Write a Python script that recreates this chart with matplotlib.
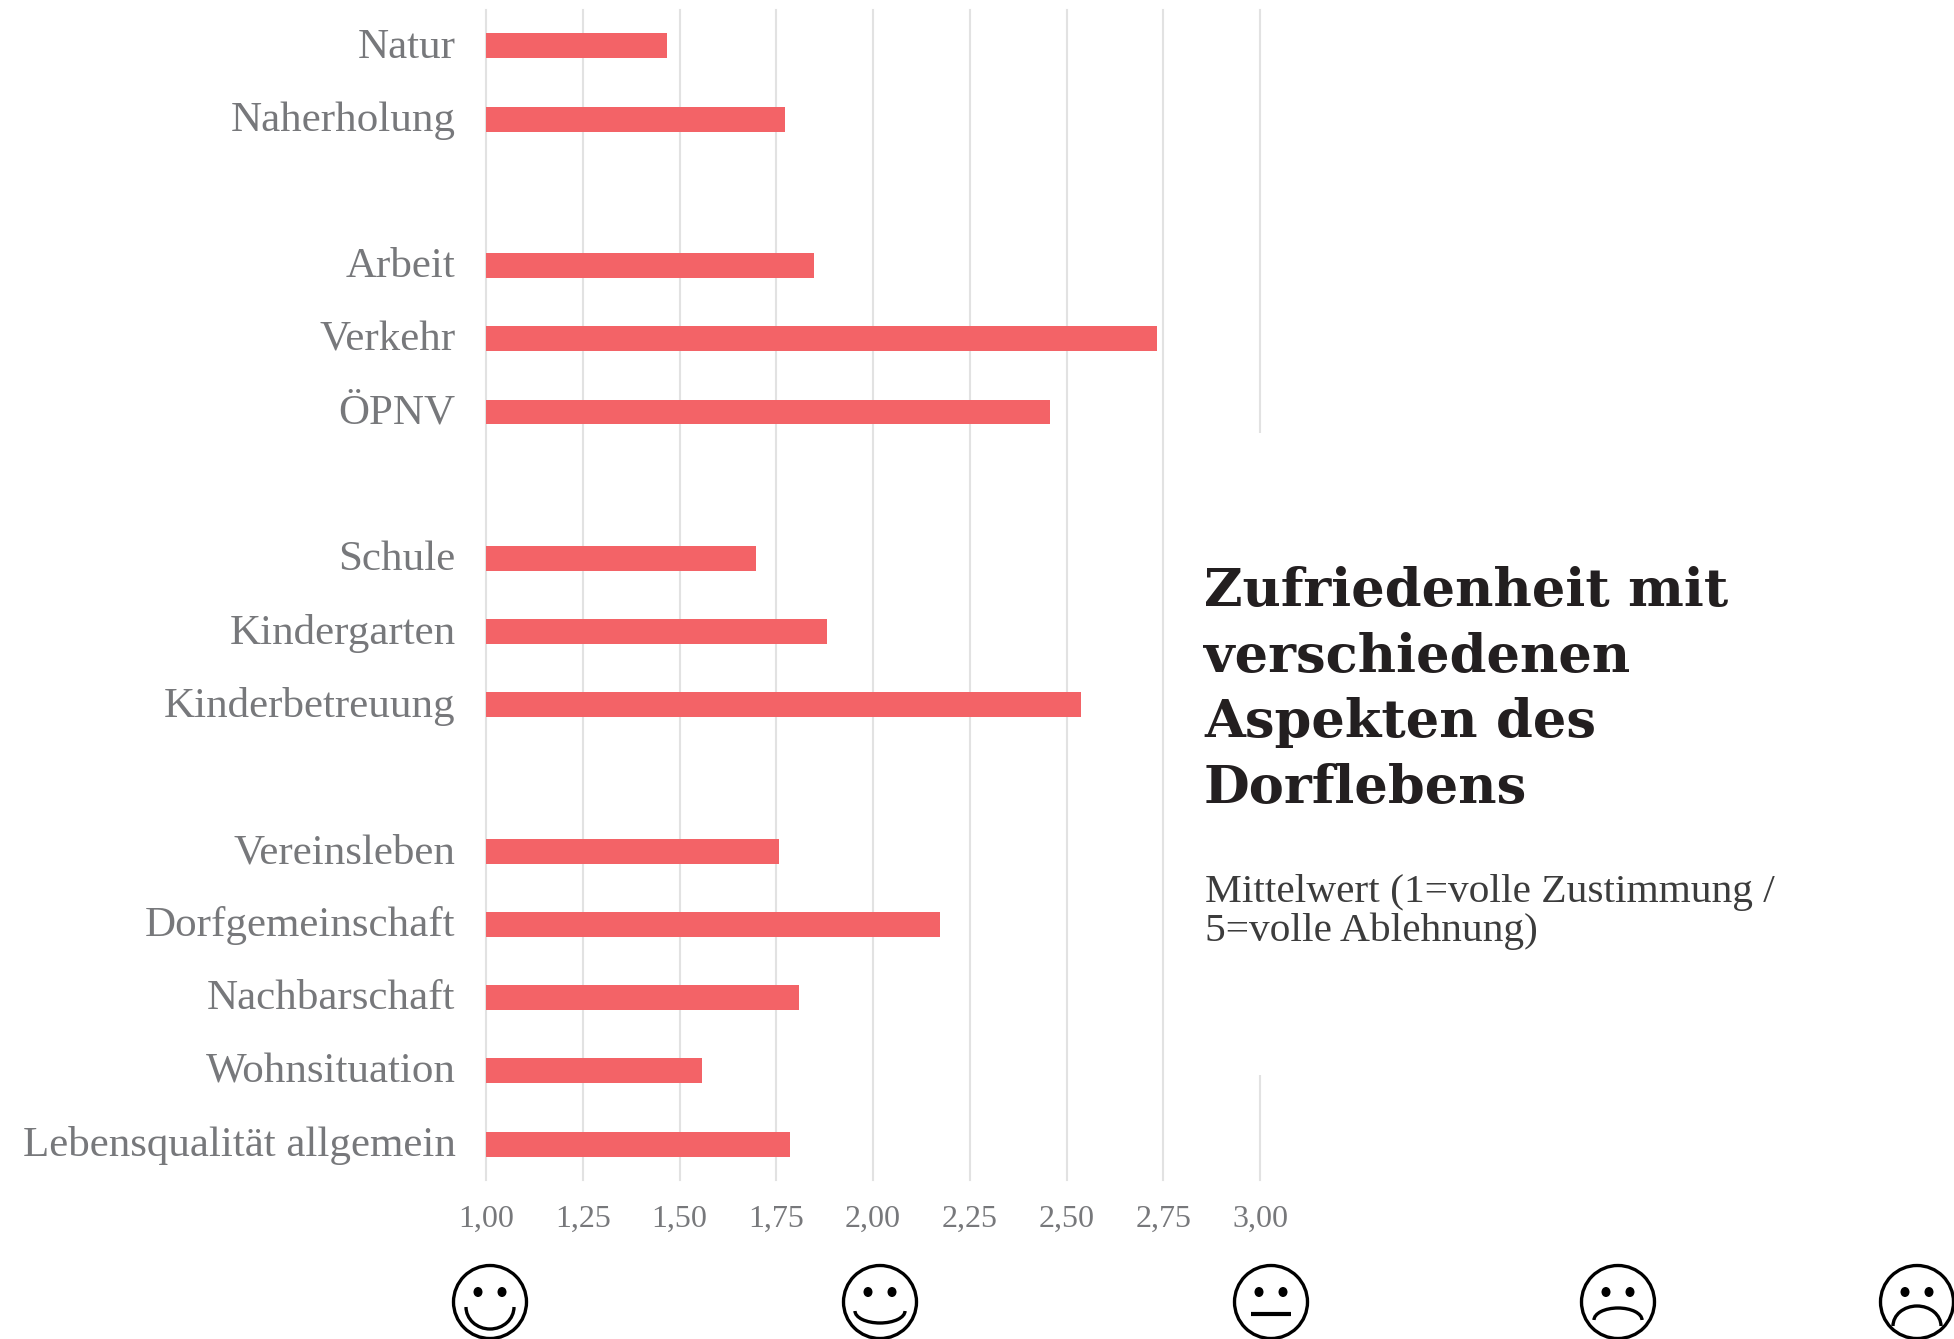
# Zufriedenheit im Dorf, horizontal bars with smiley scale below

import numpy as np
import matplotlib
matplotlib.use("Agg")
import matplotlib.pyplot as plt
from matplotlib.patches import Arc, Circle, Ellipse, Rectangle
from matplotlib.transforms import ScaledTranslation

W, H = 1954, 1339

# Data, empty names are the gaps between groups
categories = ["Natur", "Naherholung", "", "Arbeit", "Verkehr", "ÖPNV", "",
              "Schule", "Kindergarten", "Kinderbetreuung", "",
              "Vereinsleben", "Dorfgemeinschaft", "Nachbarschaft",
              "Wohnsituation", "Lebensqualität allgemein"]
values = [1.467, 1.773, np.nan, 1.847, 2.733, 2.457, np.nan,
          1.697, 1.882, 2.537, np.nan,
          1.758, 2.172, 1.810, 1.557, 1.786]
x_ticks = [1.00, 1.25, 1.50, 1.75, 2.00, 2.25, 2.50, 2.75, 3.00]
x_labels = ["1,00", "1,25", "1,50", "1,75", "2,00", "2,25", "2,50", "2,75", "3,00"]
title_text = "Zufriedenheit mit\nverschiedenen\nAspekten des\nDorflebens"
sub_text = "Mittelwert (1=volle Zustimmung /\n5=volle Ablehnung)"

BAR = "#f36367"
GREY = "#77787b"
GRID = "#e2e2e2"
SERIF = ["Liberation Serif", "DejaVu Serif"]


def px_axes(fig, left, top, right, bottom):
    return fig.add_axes([left / W, 1 - bottom / H, (right - left) / W, (bottom - top) / H])


def smiley(ax, cx, mouth):
    ax.add_patch(Circle((cx, 1302), 36.5, fc="white", ec="black", lw=2.4, clip_on=True))
    for dx in (-12, 12):
        ax.add_patch(Ellipse((cx + dx, 1292), 9, 10, fc="black", ec="none"))
    kind, y, hw, hh = mouth
    if kind == "line":
        ax.plot([cx - hw, cx + hw], [y, y], color="black", lw=3, solid_capstyle="butt")
    elif kind == "smile":
        # y axis is flipped in the overlay, so 0-180 is the lower half
        ax.add_patch(Arc((cx, y), 2 * hw, 2 * hh, theta1=0, theta2=180, color="black", lw=2.4))
    else:
        ax.add_patch(Arc((cx, y), 2 * hw, 2 * hh, theta1=180, theta2=360, color="black", lw=2.4))


fig = plt.figure(figsize=(W / 100, H / 100), dpi=100, facecolor="white")

ax = px_axes(fig, 486, 10, 1260, 1180)
ax.barh(np.arange(len(values)), values, left=0, height=0.34, color=BAR, zorder=3)
ax.set_xlim(1, 3)
ax.set_ylim(15.49, -0.49)
ax.set_xticks(x_ticks)
ax.set_xticklabels(x_labels, family=SERIF, fontsize=23, color=GREY)
ax.set_yticks(np.arange(len(categories)))
ax.set_yticklabels(categories, family=SERIF, fontsize=31, color=GREY)
ax.tick_params(axis="both", length=0)
ax.tick_params(axis="y", pad=22)
ax.tick_params(axis="x", pad=18)
ax.grid(True, axis="x", color=GRID, lw=1.5, zorder=0, clip_on=False)
ax.set_axisbelow(True)
for s in ax.spines.values():
    s.set_visible(False)

# labels sit a little high on the bars
lift = ScaledTranslation(0, 3 / 100, fig.dpi_scale_trans)
for lab in ax.get_yticklabels():
    lab.set_transform(lab.get_transform() + lift)

# overlay in pixels for the text box and the smileys
ov = fig.add_axes([0, 0, 1, 1], facecolor="none")
ov.set_xlim(0, W)
ov.set_ylim(H, 0)
ov.axis("off")
ov.add_patch(Rectangle((1172, 433), 700, 642, fc="white", ec="none"))
ov.text(1204, 690, title_text, family="DejaVu Serif", weight="bold", fontsize=38,
        color="#231f20", va="center", ha="left", linespacing=1.36)
ov.text(1205, 912, sub_text, family=SERIF, fontsize=29.8, color="#3c3c3c",
        va="center", ha="left", linespacing=1.08)

smiley(ov, 490, ("smile", 1307, 24, 22))
smiley(ov, 880, ("smile", 1311, 25, 12))
smiley(ov, 1271, ("line", 1314, 20, 0))
smiley(ov, 1618, ("frown", 1320, 24, 12))
smiley(ov, 1917, ("frown", 1326, 24, 20))

fig.savefig("out.png", dpi=100, facecolor="white")
